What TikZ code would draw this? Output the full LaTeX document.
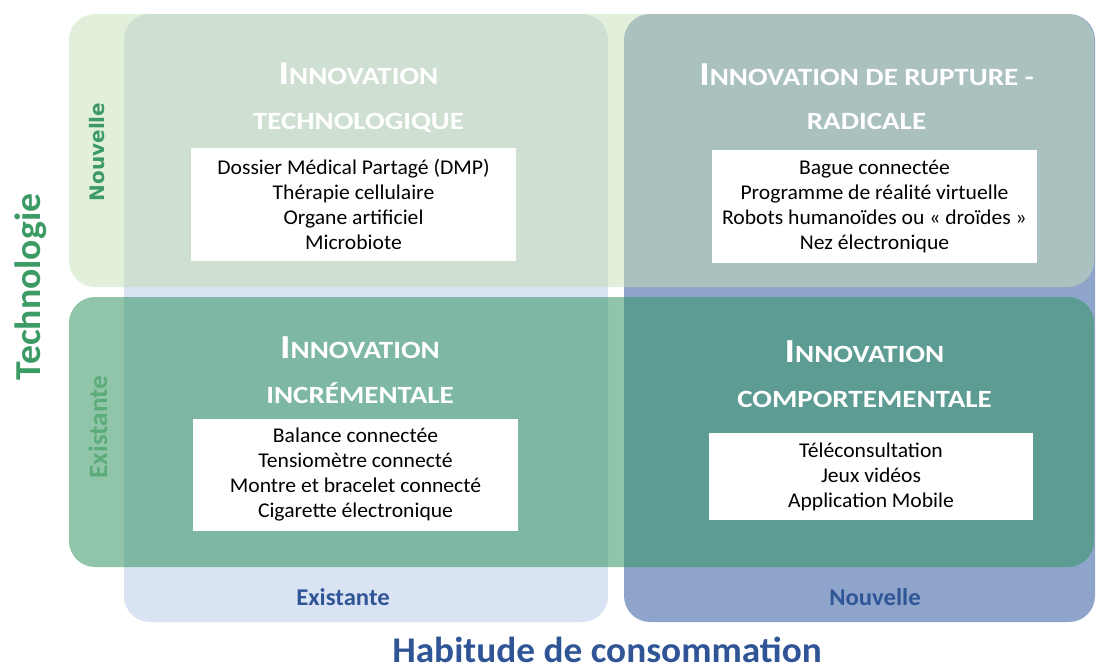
\documentclass[tikz,border=0pt]{standalone}
\usepackage{fontspec}
\setmainfont{Carlito}[FakeStretch=1.03]
\newfontfamily\titrefont{Carlito}[FakeStretch=1.17]
\newfontfamily\largefont{DejaVu Sans}
\usepackage{xcolor}
\usetikzlibrary{positioning}

\definecolor{colExist}{RGB}{218,227,243}
\definecolor{colNouv}{RGB}{143,164,202}
\definecolor{rowNouv}{RGB}{197,223,181}
\definecolor{rowExist}{RGB}{52,150,100}
\definecolor{vertTxt}{RGB}{60,155,100}
\definecolor{vertClair}{RGB}{92,172,122}
\definecolor{bleuTxt}{RGB}{47,85,151}

%% petites capitales "faites main"
\newcommand{\grandI}[1]{{\fontsize{16.8}{20}\selectfont #1}}
\newcommand{\petitC}[1]{{\fontsize{12.4}{20}\selectfont #1}}

\tikzset{
  colonne/.style={rounded corners=13pt},
  ligne/.style={rounded corners=13pt, fill opacity=0.5},
  titre/.style={text=white, font=\titrefont\bfseries, anchor=base, inner sep=0pt},
  liste/.style={fill=white, font=\fontsize{10.5}{12.5}\selectfont, align=center,
    inner sep=0pt},
  axeH/.style={font=\bfseries\fontsize{12}{14}\selectfont, text=bleuTxt}
}

\begin{document}
\begin{tikzpicture}[x=0.5pt, y=-0.5pt]
    \useasboundingbox (0,0) rectangle (1097,670);
    %%Colonnes
    \fill[colonne, colExist] (124,14) rectangle (608,622);
    \fill[colonne, colNouv] (624,14) rectangle (1095,622);
    %%Lignes
    \fill[ligne, rowNouv] (69,14) rectangle (1094,287);
    \fill[ligne, rowExist, fill opacity=0.55] (69,297) rectangle (1094,567);
    %%Titres
    \node[titre] (tTechA) at (358.5,84) {\grandI{I}\petitC{NNOVATION}};
    \node[titre] (tTechB) at (358.5,129) {\petitC{TECHNOLOGIQUE}};
    \node[titre] (tRuptA) at (866.5,85) {\grandI{I}\petitC{NNOVATION DE RUPTURE -}};
    \node[titre] (tRuptB) at (866.5,129) {\petitC{RADICALE}};
    \node[titre] (tIncrA) at (360,358) {\grandI{I}\petitC{NNOVATION}};
    \node[titre] (tIncrB) at (360,403) {\petitC{INCRÉMENTALE}};
    \node[titre] (tCompA) at (864.5,362) {\grandI{I}\petitC{NNOVATION}};
    \node[titre] (tCompB) at (864.5,407) {\petitC{COMPORTEMENTALE}};
    %%Listes
    \node[liste, minimum width=162.5pt, minimum height=56.5pt] (lTech) at (353.5,204.5)
      {Dossier Médical Partagé (DMP)\\Thérapie cellulaire\\Organe artificiel\\Microbiote};
    \node[liste, minimum width=162.5pt, minimum height=56.5pt] (lRupt) at (874.5,206.5)
      {Bague connectée\\Programme de réalité virtuelle\\Robots humanoïdes ou « droïdes »\\Nez électronique};
    \node[liste, minimum width=162.5pt, minimum height=56pt] (lIncr) at (355.5,475)
      {Balance connectée\\Tensiomètre connecté\\Montre et bracelet connecté\\Cigarette électronique};
    \node[liste, minimum width=162pt, minimum height=43.5pt] (lComp) at (871,476.5)
      {Téléconsultation\\Jeux vidéos\\Application Mobile};
    %%Axes
    \node[font=\largefont\bfseries\fontsize{10}{12}\selectfont, rotate=90, text=vertTxt] (vNouv) at (97,152) {Nouvelle};
    \node[font=\bfseries\fontsize{13.2}{16}\selectfont, rotate=90, text=vertClair] (vExist) at (98,427) {Existante};
    \node[font=\bfseries\fontsize{18.3}{22}\selectfont, rotate=90, text=vertTxt] (axeTech) at (31,287) {Technologie};
    \node[axeH] (hExist) at (343,597) {Existante};
    \node[axeH] (hNouv) at (875,597) {Nouvelle};
    \node[font=\bfseries\fontsize{18.1}{22}\selectfont, text=bleuTxt, anchor=base] (axeHab) at (607,662) {Habitude de consommation};
\end{tikzpicture}
\end{document}
